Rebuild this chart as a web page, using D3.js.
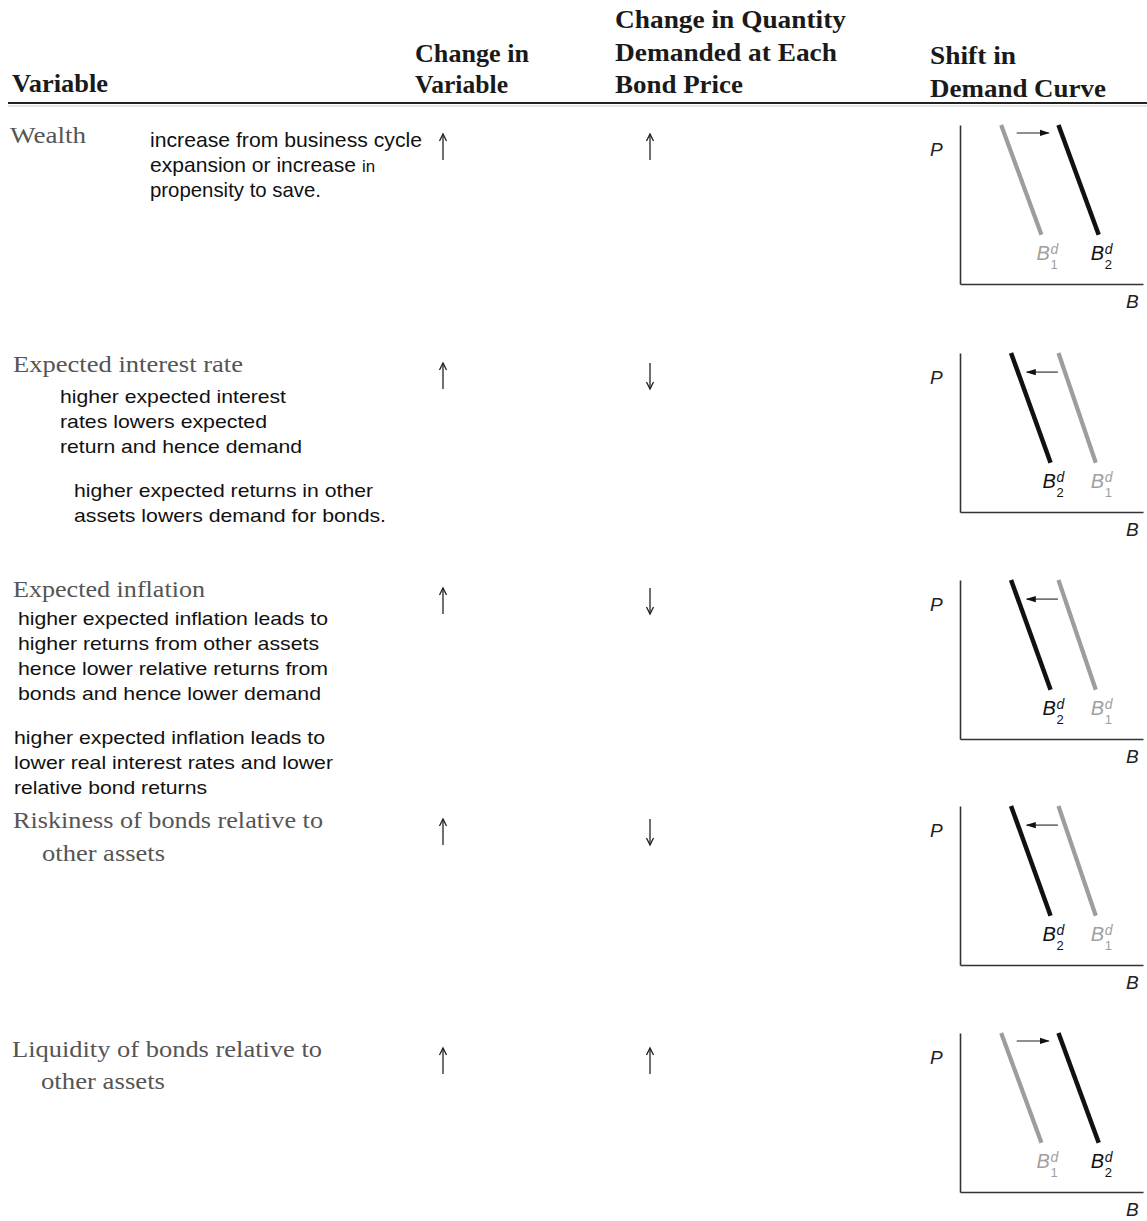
<!DOCTYPE html>
<html><head><meta charset="utf-8">
<script src="https://cdn.jsdelivr.net/npm/d3@7"></script>
<style>body{margin:0;background:#fff}</style>
</head><body>
<svg id="c" width="1147" height="1221"></svg>
<script>
// ---------- DATA ----------
const headerCols = [
  ["Variable"],
  ["Change in", "Variable"],
  ["Change in Quantity", "Demanded at Each", "Bond Price"],
  ["Shift in", "Demand Curve"]
];
const variables = [
  ["Wealth"],
  ["Expected interest rate"],
  ["Expected inflation"],
  ["Riskiness of bonds relative to", "other assets"],
  ["Liquidity of bonds relative to", "other assets"]
];
const notes = [
  [["increase from business cycle", "expansion or increase in", "propensity to save."]],
  [["higher expected interest", "rates lowers expected", "return and hence demand"],
   ["higher expected returns in other", "assets lowers demand for bonds."]],
  [["higher expected inflation leads to", "higher returns from other assets", "hence lower relative returns from", "bonds and hence lower demand"],
   ["higher expected inflation leads to", "lower real interest rates and lower", "relative bond returns"]],
  [],
  []
];
const changeInVariable = ["up", "up", "up", "up", "up"];
const changeInQuantity = ["up", "down", "down", "down", "up"];
const shiftDirection = ["right", "left", "left", "left", "right"];
// demand curves in (B, P) model units, 0..100
const rightShiftB1 = [[22.5, 100], [44.5, 31]];
const rightShiftB2 = [[53.8, 100], [75.8, 31]];
const leftShiftB1 = [[53.8, 100], [74.2, 31]];
const leftShiftB2 = [[27.9, 100], [49.5, 31]];
const rightArrow = [[31, 95], [48.5, 95]];
const leftArrow = [[53.5, 88], [36.5, 88]];

// ---------- LAYOUT ----------
const svg = d3.select("#c");
const serif = "'Liberation Serif', 'DejaVu Serif', serif";
const sans = "'Liberation Sans', Arial, sans-serif";

const headerLayout = [
  {x: 12, ys: [92], ws: [96]},
  {x: 415, ys: [62, 93], ws: [114, 93]},
  {x: 615, ys: [28, 61, 93], ws: [231, 222, 128]},
  {x: 930, ys: [64, 97], ws: [86, 176]}
];
headerCols.forEach((lines, i) => {
  const L = headerLayout[i];
  lines.forEach((s, j) => {
    svg.append("text").attr("x", L.x).attr("y", L.ys[j])
      .attr("font-family", serif).attr("font-weight", "bold").attr("font-size", 25)
      .attr("fill", "#1a1a1a").attr("textLength", L.ws[j]).attr("lengthAdjust", "spacingAndGlyphs")
      .text(s);
  });
});
svg.append("line").attr("x1", 8).attr("x2", 1147).attr("y1", 103).attr("y2", 103)
  .attr("stroke", "#222").attr("stroke-width", 2);
svg.append("line").attr("x1", 8).attr("x2", 1147).attr("y1", 106).attr("y2", 106)
  .attr("stroke", "#ccc").attr("stroke-width", 1);

const nameLayout = [
  {xs: [10], ys: [143], ws: [76]},
  {xs: [13], ys: [372], ws: [230]},
  {xs: [13], ys: [597], ws: [192]},
  {xs: [13, 42], ys: [828, 861], ws: [310, 123]},
  {xs: [12, 41], ys: [1057, 1089], ws: [310, 124]}
];
variables.forEach((lines, i) => {
  const L = nameLayout[i];
  lines.forEach((s, j) => {
    svg.append("text").attr("x", L.xs[j]).attr("y", L.ys[j])
      .attr("font-family", serif).attr("font-size", 23).attr("fill", "#555")
      .attr("textLength", L.ws[j]).attr("lengthAdjust", "spacingAndGlyphs").text(s);
  });
});

const noteLayout = [
  [{x: 150, y: 147, size: 21, ws: [272, 225, 171]}],
  [{x: 60, y: 403, size: 18.5, ws: [226, 207, 242]},
   {x: 74, y: 497, size: 18.5, ws: [299, 312]}],
  [{x: 18, y: 625, size: 18.5, ws: [310, 301, 310, 303]},
   {x: 14, y: 744, size: 18.5, ws: [311, 319, 193]}],
  [], []
];
notes.forEach((blocks, i) => {
  blocks.forEach((lines, b) => {
    const L = noteLayout[i][b];
    lines.forEach((s, j) => {
      const t = svg.append("text").attr("x", L.x).attr("y", L.y + j * 25)
        .attr("font-family", sans).attr("font-size", L.size).attr("fill", "#111")
        .attr("textLength", L.ws[j]).attr("lengthAdjust", "spacingAndGlyphs");
      if (i === 0 && j === 1) {
        t.append("tspan").text("expansion or increase ");
        t.append("tspan").attr("font-size", L.size * 0.8).text("in");
      } else t.text(s);
    });
  });
});

// direction arrows (table columns)
const rowBase = [143, 372, 597, 828, 1057];
function dirArrow(cx, base, dir) {
  const y1 = base - 9, y2 = base + 17;
  const tip = dir === "up" ? y1 : y2;
  const s = dir === "up" ? 1 : -1;
  const g = svg.append("g").attr("stroke", "#222").attr("stroke-width", 1.3).attr("fill", "none");
  g.append("line").attr("x1", cx).attr("x2", cx).attr("y1", y1).attr("y2", y2);
  g.append("path").attr("d", `M${cx - 3.5},${tip + s * 7} L${cx},${tip} L${cx + 3.5},${tip + s * 7}`);
}
changeInVariable.forEach((d, i) => dirArrow(443, rowBase[i], d));
changeInQuantity.forEach((d, i) => dirArrow(650, rowBase[i], d));

// mini charts
const defs = svg.append("defs");
defs.append("marker").attr("id", "ah").attr("markerUnits", "userSpaceOnUse")
  .attr("markerWidth", 10).attr("markerHeight", 8).attr("refX", 9).attr("refY", 4)
  .attr("orient", "auto")
  .append("path").attr("d", "M0,0.8 L10,4 L0,7.2 Z").attr("fill", "#111");

const chartTops = [125, 353, 580, 806, 1033];
const chartH = 159, axisX = 960, chartW = 183;
const line = (x, y) => d3.line().x(d => x(d[0])).y(d => y(d[1]));

function bLabel(g, px, py, sub, color) {
  g.append("text").attr("x", px).attr("y", py).attr("font-family", sans).attr("font-style", "italic")
    .attr("font-size", 20).attr("fill", color).text("B");
  g.append("text").attr("x", px + 14).attr("y", py - 6).attr("font-family", sans).attr("font-style", "italic")
    .attr("font-size", 14).attr("fill", color).text("d");
  g.append("text").attr("x", px + 14).attr("y", py + 9).attr("font-family", sans)
    .attr("font-size", 13).attr("fill", color).text(sub);
}

shiftDirection.forEach((dir, i) => {
  const top = chartTops[i];
  const x = d3.scaleLinear().domain([0, 100]).range([axisX, axisX + chartW]);
  const y = d3.scaleLinear().domain([0, 100]).range([top + chartH, top]);
  const g = svg.append("g");
  const ax = g.append("g").attr("transform", `translate(0,${top + chartH})`)
    .call(d3.axisBottom(x).ticks(0).tickSizeOuter(0));
  const ay = g.append("g").attr("transform", `translate(${axisX},0)`)
    .call(d3.axisLeft(y).ticks(0).tickSizeOuter(0));
  [ax, ay].forEach(a => a.select(".domain").attr("stroke", "#333").attr("stroke-width", 1.6));

  const B1 = dir === "right" ? rightShiftB1 : leftShiftB1;
  const B2 = dir === "right" ? rightShiftB2 : leftShiftB2;
  const arr = dir === "right" ? rightArrow : leftArrow;
  const ln = line(x, y);
  g.append("path").attr("d", ln(B1)).attr("stroke", "#9d9d9d").attr("stroke-width", 4.2).attr("fill", "none");
  g.append("path").attr("d", ln(B2)).attr("stroke", "#111").attr("stroke-width", 4.5).attr("fill", "none");
  g.append("path").attr("d", ln(arr)).attr("stroke", "#222").attr("stroke-width", 1.1)
    .attr("fill", "none").attr("marker-end", "url(#ah)");

  bLabel(g, x(B1[1][0]) - 5, y(B1[1][1]) + 25, "1", "#a0a0a0");
  bLabel(g, x(B2[1][0]) - 8, y(B2[1][1]) + 25, "2", "#111");

  g.append("text").attr("x", 930).attr("y", top + 31).attr("font-family", sans).attr("font-style", "italic")
    .attr("font-size", 19).attr("fill", "#222").text("P");
  g.append("text").attr("x", 1126).attr("y", top + chartH + 24).attr("font-family", sans).attr("font-style", "italic")
    .attr("font-size", 19).attr("fill", "#222").text("B");
});
</script>
</body></html>
